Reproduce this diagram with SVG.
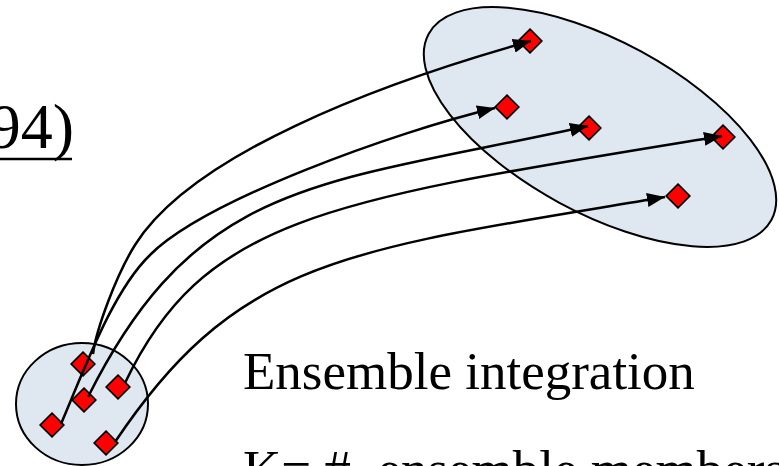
<svg xmlns="http://www.w3.org/2000/svg" width="779" height="466" viewBox="0 0 779 466">
<style>
.region{fill:#dfe7f1;stroke:#000;stroke-width:2}
.dia{fill:#ff0000;stroke:#000;stroke-width:1.7;stroke-linejoin:miter}
.conn{fill:none;stroke:#000;stroke-width:2.5}
.txt{font-family:"Liberation Serif","Times New Roman",serif;fill:#000}
</style>
<defs>
<polygon id="d" points="0,-11.8 11.8,0 0,11.8 -11.8,0"/>
<marker id="ah" markerUnits="userSpaceOnUse" markerWidth="18" markerHeight="14" viewBox="0 0 18 14" refX="18" refY="7" orient="auto">
<path d="M0,0 L18,7 L0,14 z" fill="#000"/>
</marker>
</defs>
<rect width="779" height="466" fill="#fff"/>
<g id="text-ref">
<text class="txt" x="74" y="148" font-size="64" text-anchor="end">94)</text>
<line x1="0" y1="159" x2="72" y2="159" stroke="#000" stroke-width="2.5"/>
</g>
<g id="initial-region"><ellipse class="region" cx="82" cy="404" rx="66" ry="61"/></g>
<g id="forecast-region"><ellipse class="region" cx="600" cy="127" rx="195" ry="86" transform="rotate(28.5 600 127)"/></g>
<g id="s1"><use href="#d" class="dia" x="83" y="364"/></g>
<g id="s2"><use href="#d" class="dia" x="84" y="400"/></g>
<g id="s3"><use href="#d" class="dia" x="118" y="387"/></g>
<g id="s4"><use href="#d" class="dia" x="52" y="425"/></g>
<g id="s5"><use href="#d" class="dia" x="106" y="443"/></g>
<g id="e1"><use href="#d" class="dia" x="530" y="41"/></g>
<g id="e2"><use href="#d" class="dia" x="507" y="107"/></g>
<g id="e3"><use href="#d" class="dia" x="589" y="128"/></g>
<g id="e4"><use href="#d" class="dia" x="723" y="137"/></g>
<g id="e5"><use href="#d" class="dia" x="678" y="196"/></g>
<g id="connectors">
<path class="conn" marker-end="url(#ah)" d="M93,354 C96,330 116.2,275 135,245 C191.4,155 375.6,84.4 531,41"/>
<path class="conn" marker-end="url(#ah)" d="M61,424 C85,368 112,292 150,255 C205,200 395,132 495,108"/>
<path class="conn" marker-end="url(#ah)" d="M88,397 C198,177 320,185 588,126"/>
<path class="conn" marker-end="url(#ah)" d="M125,383 C205,215 330,200 722,136"/>
<path class="conn" marker-end="url(#ah)" d="M115,442 C240,255 350,250 665,197"/>
</g>
<g id="labels">
<text class="txt" x="243" y="389" font-size="53">Ensemble integration</text>
<text class="txt" x="243" y="487" font-size="53" xml:space="preserve">K= #  ensemble members</text>
</g>
</svg>
